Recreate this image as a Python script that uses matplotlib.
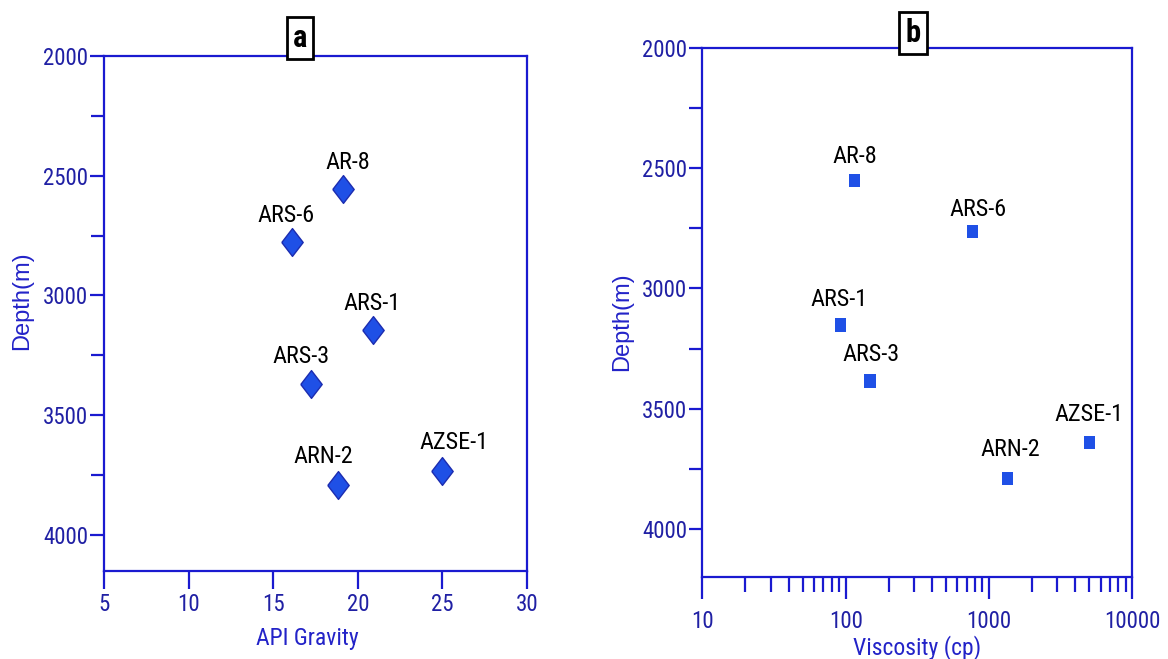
import matplotlib
matplotlib.use("Agg")
import matplotlib.pyplot as plt
from matplotlib import font_manager
from matplotlib.ticker import MultipleLocator, LogLocator, FixedLocator, NullFormatter
import numpy as np

# ---------------- data ----------------
wells_a = ["AR-8", "ARS-6", "ARS-1", "ARS-3", "ARN-2", "AZSE-1"]
api_gravity = [19.1, 16.1, 20.9, 17.2, 18.8, 25.0]
depth_a = [2555, 2775, 3145, 3370, 3790, 3735]

wells_b = ["AR-8", "ARS-6", "ARS-1", "ARS-3", "ARN-2", "AZSE-1"]
viscosity = [115, 770, 92, 148, 1340, 5000]
depth_b = [2550, 2762, 3152, 3385, 3790, 3642]

x_ticks_a = [5, 10, 15, 20, 25, 30]
y_ticks = [2000, 2500, 3000, 3500, 4000]
x_ticks_b = [10, 100, 1000, 10000]

# ---------------- font ----------------
available = {f.name for f in font_manager.fontManager.ttflist}
narrow_candidates = ['Liberation Sans Narrow', 'Arial Narrow', 'Noto Sans Condensed',
                     'Noto Sans SemiCondensed', 'DejaVu Sans Condensed',
                     'Roboto Condensed', 'Open Sans Condensed']
narrow = next((n for n in narrow_candidates if n in available), None)
if narrow:
    plt.rcParams['font.family'] = [narrow, 'Liberation Sans', 'DejaVu Sans']
    TS, LS, PS = 16.5, 17, 17.5     # tick, axis label, point label sizes
else:
    plt.rcParams['font.family'] = ['Liberation Sans', 'DejaVu Sans']
    TS, LS, PS = 14, 15.5, 15
YLAB_FONT = ['Liberation Sans', 'DejaVu Sans']
YLS = 17

# ---------------- style ----------------
SPINE = '#1a1ad0'
TICKTXT = '#2020a4'
LABELC = '#2323c8'
FILL = '#1f50e6'
EDGE = '#1c2cb0'

# label offsets in points (dx, dy)
off_a = [(4, 19), (-4, 19), (-1, 19), (-7, 20), (-10, 20), (8, 21)]
off_b = [(0, 17), (4, 16), (-1, 18), (1, 19), (2, 21), (0, 20)]

fig = plt.figure(figsize=(11.68, 6.59), dpi=100)
axa = fig.add_axes([0.0893, 0.134, 0.3619, 0.781])
axb = fig.add_axes([0.6013, 0.1249, 0.3682, 0.8018])

diamond = [(-0.385, 0), (0, 0.5), (0.385, 0), (0, -0.5), (-0.385, 0)]
rect = [(-0.42, -0.5), (0.42, -0.5), (0.42, 0.5), (-0.42, 0.5), (-0.42, -0.5)]

axa.scatter(api_gravity, depth_a, marker=diamond, s=20.0**2, c=FILL,
            edgecolors=EDGE, linewidths=1.0, zorder=3)
axb.scatter(viscosity, depth_b, marker=rect, s=9.6**2, c=FILL,
            edgecolors='none', zorder=3)

for w, x, y, (dx, dy) in zip(wells_a, api_gravity, depth_a, off_a):
    axa.annotate(w, (x, y), xytext=(dx, dy), textcoords='offset points',
                 ha='center', va='center', fontsize=PS, color='black')
for w, x, y, (dx, dy) in zip(wells_b, viscosity, depth_b, off_b):
    axb.annotate(w, (x, y), xytext=(dx, dy), textcoords='offset points',
                 ha='center', va='center', fontsize=PS, color='black')

# panel a axes
axa.set_xlim(5, 30)
axa.set_ylim(4150, 2000)
axa.xaxis.set_major_locator(FixedLocator(x_ticks_a))
axa.yaxis.set_major_locator(FixedLocator(y_ticks))
axa.yaxis.set_minor_locator(MultipleLocator(250))
axa.tick_params(axis='x', which='major', direction='out', length=13, width=1.6,
                color=SPINE, labelcolor=TICKTXT, labelsize=TS, pad=3)
axa.tick_params(axis='y', which='major', direction='out', length=10, width=1.6,
                color=SPINE, labelcolor=TICKTXT, labelsize=TS, pad=1.5)
axa.tick_params(axis='y', which='minor', direction='out', length=9.5, width=1.6,
                color=SPINE)
axa.set_xlabel("API Gravity", fontsize=LS, color=LABELC)
axa.set_ylabel("Depth(m)", fontsize=YLS, color=LABELC, family=YLAB_FONT)
axa.xaxis.set_label_coords(0.48, -0.109)
axa.yaxis.set_label_coords(-0.169, 0.524)

# panel b axes
axb.set_xscale('log')
axb.set_xlim(10, 10000)
axb.set_ylim(4200, 2000)
axb.xaxis.set_major_locator(FixedLocator(x_ticks_b))
axb.xaxis.set_minor_locator(LogLocator(base=10, subs=np.arange(2, 10)))
axb.xaxis.set_minor_formatter(NullFormatter())
axb.set_xticklabels([str(v) for v in x_ticks_b])
axb.yaxis.set_major_locator(FixedLocator(y_ticks))
axb.yaxis.set_minor_locator(MultipleLocator(250))
axb.tick_params(axis='x', which='major', direction='out', length=16, width=1.6,
                color=SPINE, labelcolor=TICKTXT, labelsize=TS, pad=8)
axb.tick_params(axis='x', which='minor', direction='out', length=11, width=1.6,
                color=SPINE)
axb.tick_params(axis='y', which='major', direction='out', length=9.5, width=1.6,
                color=SPINE, labelcolor=TICKTXT, labelsize=TS, pad=1.5)
axb.tick_params(axis='y', which='minor', direction='out', length=9.5, width=1.6,
                color=SPINE)
axb.set_xlabel("Viscosity (cp)", fontsize=LS, color=LABELC)
axb.set_ylabel("Depth(m)", fontsize=YLS, color=LABELC, family=YLAB_FONT)
axb.xaxis.set_label_coords(0.5, -0.11)
axb.yaxis.set_label_coords(-0.161, 0.482)

for ax in (axa, axb):
    for s in ax.spines.values():
        s.set_color(SPINE)
        s.set_linewidth(1.6)

# panel letters
axa.text(0.463, 1.0 + 0.006, "a", transform=axa.transAxes, ha='center', va='bottom',
         fontsize=22, fontweight='bold', color='black',
         bbox=dict(boxstyle='square,pad=0.2', fc='white', ec='black', lw=2))
axb.text(0.49, 1.0, "b", transform=axb.transAxes, ha='center', va='bottom',
         fontsize=22, fontweight='bold', color='black',
         bbox=dict(boxstyle='square,pad=0.2', fc='white', ec='black', lw=2))

fig.savefig("out.png", dpi=100, facecolor='white')
